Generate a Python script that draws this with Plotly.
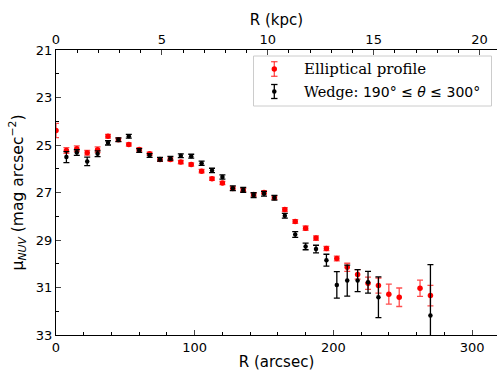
import plotly.graph_objects as go

# Elliptical profile (red)
r_ell = [0, 7.5, 15, 22.5, 30, 37.5, 45, 52.5, 60, 67.5, 75, 82.5, 90, 97.5, 105, 112.5,
         120, 127.5, 135, 142.5, 150, 157.5, 165, 172.5, 180, 187.5, 195, 202.5, 210,
         217.5, 225, 232.5, 240, 247.5, 262.5, 270]
mu_ell = [24.39, 25.23, 25.16, 25.33, 25.20, 24.63, 24.78, 24.98, 25.19, 25.37, 25.61, 25.61,
          25.72, 25.82, 26.10, 26.42, 26.60, 26.83, 26.90, 27.08, 27.00, 27.22, 27.72, 28.22,
          28.50, 28.92, 29.36, 29.78, 30.15, 30.45, 30.82, 30.92, 31.28, 31.41, 31.03, 31.34]
err_ell = [0.30, 0.12, 0.12, 0.10, 0.12, 0.08, 0.07, 0.07, 0.07, 0.07, 0.07, 0.07,
           0.07, 0.07, 0.07, 0.07, 0.07, 0.07, 0.07, 0.07, 0.07, 0.07, 0.08, 0.08,
           0.09, 0.09, 0.09, 0.10, 0.17, 0.20, 0.26, 0.32, 0.42, 0.39, 0.34, 0.43]

# Wedge profile (black)
r_wedge = [7.5, 15, 22.5, 30, 37.5, 45, 52.5, 60, 67.5, 75, 82.5, 90, 97.5, 105, 112.5,
           120, 127.5, 135, 142.5, 150, 157.5, 165, 172.5, 180, 187.5, 195, 202.5, 210,
           217.5, 225, 232.5, 270]
mu_wedge = [25.51, 25.32, 25.69, 25.37, 24.91, 24.78, 24.63, 25.23, 25.44, 25.60, 25.56, 25.45,
            25.47, 25.77, 26.07, 26.35, 26.82, 26.89, 27.11, 27.05, 27.22, 27.98, 28.77, 29.27,
            29.38, 29.85, 30.89, 30.71, 30.71, 30.78, 31.41, 32.18]
err_wedge = [0.23, 0.12, 0.18, 0.12, 0.09, 0.08, 0.08, 0.08, 0.08, 0.08, 0.08, 0.08,
             0.08, 0.09, 0.09, 0.09, 0.10, 0.10, 0.10, 0.10, 0.10, 0.10, 0.12, 0.14,
             0.16, 0.25, 0.56, 0.65, 0.46, 0.46, 0.86, 2.14]

series_names = ["Elliptical profile",
                "Wedge: <span style='font-family:DejaVu Sans;font-size:14px'>190° ≤ <i>θ</i> ≤ 300°</span>"]
kpc_ticks = [0, 5, 10, 15, 20]
arcsec_per_kpc = 15.27
x_max = 318

RED_BAR = "rgba(255,0,0,0.7)"

fig = go.Figure()
fig.add_trace(go.Scatter(
    x=r_ell, y=mu_ell, mode="markers", name="Elliptical profile", showlegend=False,
    marker=dict(color="red", size=5.5),
    error_y=dict(type="data", array=err_ell, color=RED_BAR, thickness=1.3, width=3),
))
fig.add_trace(go.Scatter(
    x=r_wedge, y=mu_wedge, mode="markers", name="Wedge", showlegend=False,
    marker=dict(color="black", size=4.5),
    error_y=dict(type="data", array=err_wedge, color="black", thickness=1.3, width=3),
))
# invisible helper trace for top kpc axis
fig.add_trace(go.Scatter(x=kpc_ticks, y=[None] * len(kpc_ticks), xaxis="x2", yaxis="y",
                         mode="markers", showlegend=False, hoverinfo="skip"))

# ---- manual legend (paper coordinates computed from pixel layout) ----
L, R_, T, B = 56, 497, 50, 335
W, H = R_ - L, B - T
px = lambda x: (x - L) / W
py = lambda y: (B - y) / H

shapes = [dict(type="rect", xref="paper", yref="paper",
               x0=px(253.5), x1=px(491.5), y0=py(106), y1=py(56),
               line=dict(color="#cccccc", width=1), fillcolor="rgba(255,255,255,0.8)", layer="above")]
annotations = []
entries = [(series_names[0], "red", RED_BAR, 69, 7.3, 15),
           (series_names[1], "black", "black", 91.5, 7.0, 14.5)]
for name, mcol, bcol, yc, half, fs in entries:
    xs = 274.3
    shapes.append(dict(type="line", xref="paper", yref="paper", x0=px(xs), x1=px(xs),
                       y0=py(yc - half), y1=py(yc + half), line=dict(color=bcol, width=1.3), layer="above"))
    for yy in (yc - half, yc + half):
        shapes.append(dict(type="line", xref="paper", yref="paper", x0=px(xs - 3.2), x1=px(xs + 3.2),
                           y0=py(yy), y1=py(yy), line=dict(color=bcol, width=1.3), layer="above"))
    r = 2.7 if mcol == "red" else 2.3
    shapes.append(dict(type="circle", xref="paper", yref="paper", x0=px(xs - r), x1=px(xs + r),
                       y0=py(yc + r), y1=py(yc - r), line=dict(width=0), fillcolor=mcol, layer="above"))
    annotations.append(dict(xref="paper", yref="paper", x=px(302), y=py(yc), xanchor="left",
                            yanchor="middle", text=name, showarrow=False,
                            font=dict(family="DejaVu Serif", size=fs, color="black")))

tickfont = dict(family="DejaVu Sans", size=13, color="black")
fig.update_layout(
    width=497, height=372,
    margin=dict(l=L, r=0, t=T, b=372 - B),
    paper_bgcolor="white", plot_bgcolor="white",
    font=dict(family="DejaVu Sans", color="black"),
    showlegend=False,
    shapes=shapes, annotations=annotations,
    xaxis=dict(range=[0, x_max], tickvals=[0, 100, 200, 300], ticks="inside", ticklen=5,
               tickwidth=1, showline=True, linecolor="black", linewidth=1.2, showgrid=False,
               zeroline=False, mirror=False, tickfont=tickfont,
               minor=dict(dtick=20, tick0=0, ticks="inside", ticklen=3, tickcolor="black"),
               title=dict(text="R (arcsec)", font=dict(family="DejaVu Sans", size=15), standoff=2)),
    xaxis2=dict(range=[0, x_max / arcsec_per_kpc], overlaying="x", side="top", tickvals=kpc_ticks,
                ticks="inside", ticklen=5, showline=True, linecolor="black", linewidth=1.2,
                showgrid=False, zeroline=False, tickfont=tickfont,
                minor=dict(dtick=1, tick0=0, ticks="inside", ticklen=3, tickcolor="black"),
                title=dict(text="R (kpc)", font=dict(family="DejaVu Sans", size=15), standoff=2)),
    yaxis=dict(range=[33, 21], tickvals=[21, 23, 25, 27, 29, 31, 33], ticks="inside", ticklen=5,
               showline=True, linecolor="black", linewidth=1.2, showgrid=False, zeroline=False,
               mirror=True, tickfont=tickfont,
               minor=dict(dtick=1, tick0=21, ticks="inside", ticklen=3, tickcolor="black"),
               title=dict(text="μ<sub><i>NUV</i></sub> (mag arcsec<sup>−2</sup>)",
                          font=dict(family="DejaVu Sans", size=15.5), standoff=8)),
)

fig.write_html("out.html")
